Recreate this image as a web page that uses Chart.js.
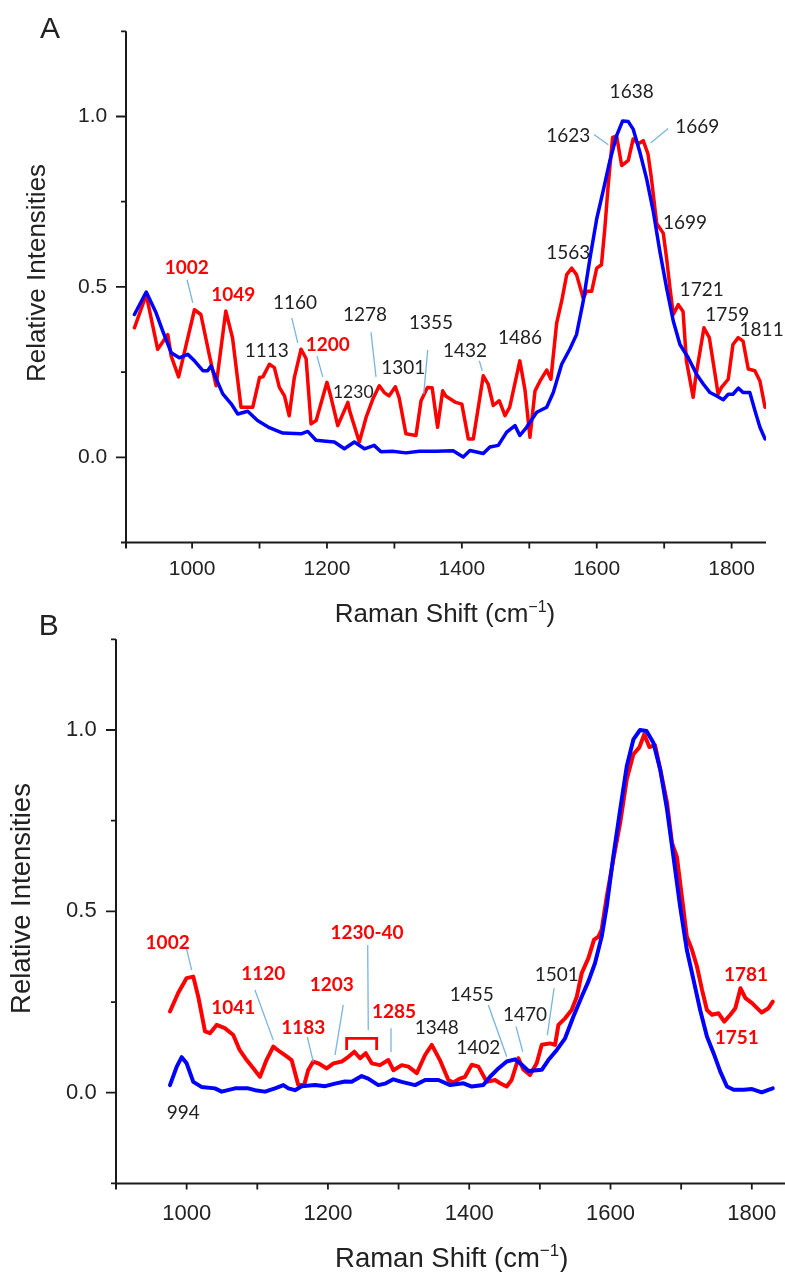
<!DOCTYPE html>
<html><head><meta charset="utf-8">
<script src="https://cdn.jsdelivr.net/npm/chart.js@4.4.1/dist/chart.umd.min.js"></script>
<style>
html,body{margin:0;padding:0;background:#fff;overflow:hidden;width:785px;height:1272px;}
#wrap{position:relative;width:785px;height:1272px;overflow:hidden;background:#fff;}
canvas{position:absolute;left:0;top:0;}
</style></head><body><div id="wrap"><canvas id="cA" width="800" height="1272"></canvas><canvas id="cB" width="800" height="1272"></canvas></div>
<script>
// ---------- Tick labels ----------
const xTickLabels = [1000, 1200, 1400, 1600, 1800];
const xMinorTicks = [1100, 1300, 1500, 1700];
const yTickLabels = [0.0, 0.5, 1.0];
const yMinorTicks = [-0.25, 0.25, 0.75, 1.25];

// ---------- Panel A data ----------
const redAx = [914.5,932,949,964,969,980,1003.5,1013,1025.6,1035.6,1050,1060,1072.6,1090,1100,1105,1114.6,1122,1129.4,1137,1144,1151.6,1161.6,1169,1176.4,1184,1200,1206,1216,1231,1233.5,1248,1258,1268,1277.6,1285,1292,1301.4,1307,1317,1332,1339.5,1349,1356,1364,1371.6,1376,1391,1400,1409.6,1417,1431.8,1439,1446.6,1455.5,1464,1471,1486,1493.6,1501,1508.5,1516,1525.8,1532,1540.6,1548,1555.5,1563,1570,1580,1585,1592.5,1600,1607,1612,1617,1623.6,1629.5,1637,1646.8,1654,1661.6,1669,1676,1681,1688.9,1698.7,1703.6,1708.6,1713.5,1721,1728,1733,1743,1746.7,1759,1767,1780,1785,1795,1802,1809.8,1817,1824.7,1834.5,1842,1849.5];
const redAy = [0.38,0.477,0.317,0.36,0.297,0.236,0.433,0.419,0.30,0.21,0.429,0.35,0.147,0.147,0.234,0.236,0.273,0.263,0.205,0.18,0.122,0.234,0.317,0.29,0.098,0.108,0.22,0.176,0.093,0.161,0.137,0.045,0.117,0.171,0.21,0.19,0.18,0.207,0.175,0.069,0.064,0.166,0.205,0.204,0.088,0.195,0.18,0.161,0.156,0.054,0.054,0.239,0.215,0.152,0.166,0.122,0.147,0.283,0.198,0.059,0.195,0.224,0.256,0.229,0.394,0.458,0.536,0.555,0.536,0.467,0.487,0.487,0.555,0.565,0.671,0.798,0.939,0.943,0.856,0.871,0.934,0.92,0.929,0.89,0.82,0.686,0.657,0.584,0.497,0.419,0.448,0.428,0.283,0.176,0.234,0.38,0.351,0.186,0.205,0.229,0.331,0.351,0.341,0.259,0.254,0.224,0.147];
const blueAx = [914.5,932,946.6,956.5,969,981,993.6,1003.5,1016,1023,1028,1038,1045.5,1058,1067.7,1082.5,1097,1114.6,1134.4,1161.6,1171.5,1183.8,1198.6,1211,1225.8,1240.6,1255.5,1270,1280,1297,1317,1337,1362,1387,1402,1412,1431.8,1441.6,1454,1466.5,1478.8,1486,1496,1511,1525.8,1535.6,1548,1560,1570,1580,1590,1600,1609.7,1619.6,1629.5,1638.4,1646.8,1654,1664,1674,1684,1693.7,1703.6,1713.5,1723.4,1735.7,1748,1758,1768,1778,1787.6,1795,1802,1810,1817,1827,1834.6,1842,1849.5];
const blueAy = [0.419,0.485,0.424,0.37,0.307,0.292,0.302,0.283,0.254,0.254,0.268,0.22,0.186,0.157,0.127,0.135,0.108,0.087,0.071,0.069,0.076,0.05,0.047,0.045,0.025,0.045,0.025,0.035,0.016,0.018,0.013,0.018,0.018,0.019,0.001,0.02,0.011,0.03,0.035,0.074,0.093,0.064,0.088,0.132,0.147,0.19,0.273,0.317,0.36,0.458,0.584,0.70,0.783,0.871,0.944,0.987,0.985,0.963,0.895,0.817,0.72,0.603,0.497,0.40,0.331,0.292,0.244,0.215,0.19,0.18,0.169,0.185,0.185,0.203,0.19,0.19,0.137,0.088,0.054];

// ---------- Panel B data ----------
const redBx = [976.4,988,1000,1009.4,1016.5,1026,1033,1042.5,1054,1066,1075,1085,1094.6,1103.8,1113,1122.6,1132,1141.6,1148.6,1158,1166.4,1172,1179.3,1186.4,1198.3,1207.8,1219.5,1229,1237.4,1245.5,1253.5,1262,1273.7,1285.5,1292.6,1304.5,1314,1325.8,1337.5,1347,1358.5,1370.5,1377.6,1387,1394,1403.6,1413,1424.8,1436.6,1443.7,1453,1460,1469.6,1476.6,1486,1495.5,1502.7,1514.5,1521.5,1526.3,1535.7,1545,1552.3,1559.3,1568.7,1576.7,1582.8,1587.5,1594.7,1604,1613.7,1623,1632.4,1640.8,1647.7,1655,1663,1670.4,1680,1687,1694,1701,1708,1715.3,1722.4,1729.5,1736.5,1743.6,1753,1761,1769.6,1776.7,1784,1791,1800.4,1814,1823.6,1829.7];
const redBy = [0.224,0.275,0.316,0.32,0.264,0.169,0.164,0.187,0.178,0.159,0.118,0.09,0.067,0.044,0.09,0.127,0.113,0.1,0.09,0.021,0.021,0.062,0.086,0.081,0.067,0.081,0.086,0.099,0.113,0.095,0.109,0.081,0.076,0.09,0.062,0.076,0.072,0.054,0.104,0.132,0.09,0.035,0.028,0.039,0.044,0.077,0.072,0.03,0.035,0.026,0.017,0.035,0.095,0.064,0.049,0.081,0.132,0.136,0.132,0.187,0.205,0.228,0.265,0.33,0.371,0.422,0.43,0.45,0.541,0.643,0.744,0.864,0.933,0.952,0.988,0.953,0.958,0.891,0.8,0.689,0.65,0.541,0.431,0.394,0.348,0.284,0.228,0.215,0.219,0.196,0.215,0.233,0.288,0.261,0.247,0.221,0.233,0.251];
const blueBx = [976.4,986,993,1000,1009.4,1021,1040,1049.6,1068.5,1087,1096.8,1111,1125,1137,1144,1153.4,1162.8,1181.7,1196,1210,1224,1233.6,1247.8,1257,1271.3,1280.7,1292.5,1304.5,1323.3,1337.5,1356.4,1373,1392,1403.6,1420,1429.5,1441.3,1453,1464.9,1474.4,1483.8,1502.7,1512,1524,1535.7,1547.5,1559.3,1568.7,1578,1587.6,1594.7,1604,1613.7,1623,1632.4,1641.8,1651,1660.7,1670.4,1680,1689,1698.5,1708,1717.5,1726.9,1736.5,1745.9,1755.4,1764.8,1774.3,1788.4,1800.4,1814,1823.6,1829.7];
const blueBy = [0.021,0.072,0.098,0.081,0.03,0.016,0.012,0.003,0.012,0.012,0.007,0.003,0.012,0.021,0.012,0.007,0.018,0.021,0.018,0.025,0.031,0.03,0.046,0.039,0.021,0.025,0.037,0.03,0.021,0.035,0.035,0.021,0.026,0.017,0.021,0.044,0.067,0.086,0.092,0.077,0.06,0.063,0.09,0.118,0.15,0.21,0.265,0.307,0.357,0.431,0.514,0.652,0.781,0.90,0.974,1.0,0.997,0.965,0.891,0.781,0.652,0.514,0.394,0.311,0.228,0.155,0.109,0.058,0.017,0.008,0.008,0.01,0.001,0.008,0.012];

// ---------- Peak annotations (label text, anchor in data units) ----------
const peaksA = [
  {text:'1002', x:992, y:0.555, red:true, line:[992.6,0.521,1001,0.453]},
  {text:'1049', x:1061, y:0.477, red:true},
  {text:'1113', x:1110.7, y:0.312},
  {text:'1160', x:1152.7, y:0.453, line:[1147.8,0.409,1156.7,0.336]},
  {text:'1200', x:1201.2, y:0.331, red:true, line:[1185.3,0.297,1193.7,0.236]},
  {text:'1230', x:1239, y:0.192, small:true},
  {text:'1278', x:1256.4, y:0.419, line:[1265.3,0.367,1272.7,0.236]},
  {text:'1301', x:1313.2, y:0.263},
  {text:'1355', x:1354.3, y:0.394, line:[1349.4,0.315,1343.5,0.186]},
  {text:'1432', x:1404.7, y:0.312, line:[1425.9,0.283,1430.3,0.254]},
  {text:'1486', x:1486.2, y:0.351},
  {text:'1563', x:1557.8, y:0.599},
  {text:'1623', x:1557.8, y:0.944, line:[1595.9,0.947,1617.1,0.917]},
  {text:'1638', x:1651.8, y:1.072},
  {text:'1669', x:1749, y:0.971, line:[1706,0.965,1680,0.922]},
  {text:'1699', x:1730.8, y:0.689},
  {text:'1721', x:1755.6, y:0.492},
  {text:'1759', x:1793.5, y:0.419},
  {text:'1811', x:1844.5, y:0.375}
];
const peaksB = [
  {text:'1002', x:973.1, y:0.412, red:true, line:[1000,0.396,1007.1,0.338]},
  {text:'994', x:995.2, y:-0.055},
  {text:'1041', x:1066, y:0.233, red:true},
  {text:'1120', x:1108.5, y:0.327, red:true, line:[1096.7,0.283,1122.6,0.145]},
  {text:'1183', x:1165.1, y:0.178, red:true, line:[1170.8,0.154,1179.3,0.085]},
  {text:'1203', x:1205.3, y:0.297, red:true, line:[1221.7,0.242,1210,0.104]},
  {text:'1230-40', x:1255.3, y:0.44, red:true, line:[1256.3,0.407,1257.1,0.173]},
  {text:'1285', x:1293.5, y:0.223, red:true, line:[1289.3,0.178,1289.3,0.112]},
  {text:'1348', x:1354, y:0.178},
  {text:'1402', x:1412.9, y:0.125},
  {text:'1455', x:1403.5, y:0.269, line:[1427,0.242,1453.1,0.099]},
  {text:'1470', x:1479, y:0.214, line:[1466.3,0.182,1475.8,0.113]},
  {text:'1501', x:1523.9, y:0.325, line:[1520.1,0.288,1510.6,0.159]},
  {text:'1781', x:1791.9, y:0.325, red:true},
  {text:'1751', x:1778.8, y:0.15, red:true}
];
const bracketB = {x1:1226.5, x2:1269, y:0.15, yLeg:0.118};

// ---------- drawing ----------
const AXIS_FONT = '"Liberation Sans", Arial, sans-serif';
const PEAK_FONT = 'Lato, "Open Sans", sans-serif';
const INK = '#222222';

function zip(xs, ys) { return xs.map((x, i) => ({x: x, y: ys[i]})); }

function decorPlugin(cfg) {
  return {
    id: 'decor' + cfg.id,
    afterDraw(chart) {
      const ctx = chart.ctx, xs = chart.scales.x, ys = chart.scales.y, a = chart.chartArea;
      ctx.save();
      // axes
      ctx.strokeStyle = '#1a1a1a'; ctx.lineWidth = 2; ctx.lineCap = 'butt';
      ctx.beginPath();
      ctx.moveTo(a.left, a.top); ctx.lineTo(a.left, a.bottom + 6);
      ctx.moveTo(a.left - 1, a.bottom); ctx.lineTo(a.right, a.bottom);
      ctx.stroke();
      ctx.lineWidth = 1.8;
      ctx.beginPath();
      yTickLabels.forEach(v => { const y = ys.getPixelForValue(v); ctx.moveTo(a.left - 10, y); ctx.lineTo(a.left, y); });
      yMinorTicks.forEach(v => { const y = ys.getPixelForValue(v); ctx.moveTo(a.left - 5, y); ctx.lineTo(a.left, y); });
      xTickLabels.concat(xMinorTicks).forEach(v => { const x = xs.getPixelForValue(v); ctx.moveTo(x, a.bottom); ctx.lineTo(x, a.bottom + 6); });
      ctx.stroke();

      // y title
      ctx.fillStyle = INK;
      ctx.save();
      ctx.translate(cfg.yTitleX, cfg.yTitleY);
      ctx.rotate(-Math.PI / 2);
      ctx.font = cfg.yTitleSize + 'px ' + AXIS_FONT;
      ctx.textAlign = 'center'; ctx.textBaseline = 'middle';
      ctx.fillText('Relative Intensities', 0, 0);
      ctx.restore();

      // x title with superscript
      const F = cfg.xTitleSize, fs = Math.round(F * 0.62);
      const p1 = 'Raman Shift (cm', sup = '\u22121', p3 = ')';
      ctx.font = F + 'px ' + AXIS_FONT; const w1 = ctx.measureText(p1).width, w3 = ctx.measureText(p3).width;
      ctx.font = fs + 'px ' + AXIS_FONT; const w2 = ctx.measureText(sup).width;
      let x0 = cfg.xTitleX - (w1 + w2 + w3) / 2;
      ctx.textAlign = 'left'; ctx.textBaseline = 'alphabetic';
      ctx.font = F + 'px ' + AXIS_FONT; ctx.fillText(p1, x0, cfg.xTitleY);
      ctx.font = fs + 'px ' + AXIS_FONT; ctx.fillText(sup, x0 + w1, cfg.xTitleY - F * 0.38);
      ctx.font = F + 'px ' + AXIS_FONT; ctx.fillText(p3, x0 + w1 + w2, cfg.xTitleY);

      // panel letter
      ctx.font = cfg.letterSize + 'px ' + AXIS_FONT;
      ctx.textAlign = 'center'; ctx.textBaseline = 'middle';
      ctx.fillText(cfg.letter, cfg.letterX, cfg.letterY);

      // leader lines
      ctx.strokeStyle = '#78b4e2'; ctx.lineWidth = 1.3;
      cfg.peaks.forEach(p => {
        if (!p.line) return;
        ctx.beginPath();
        ctx.moveTo(xs.getPixelForValue(p.line[0]), ys.getPixelForValue(p.line[1]));
        ctx.lineTo(xs.getPixelForValue(p.line[2]), ys.getPixelForValue(p.line[3]));
        ctx.stroke();
      });
      // bracket
      if (cfg.bracket) {
        const b = cfg.bracket;
        ctx.strokeStyle = '#ff0000'; ctx.lineWidth = 2.8; ctx.lineJoin = 'miter';
        ctx.beginPath();
        ctx.moveTo(xs.getPixelForValue(b.x1), ys.getPixelForValue(b.yLeg));
        ctx.lineTo(xs.getPixelForValue(b.x1), ys.getPixelForValue(b.y));
        ctx.lineTo(xs.getPixelForValue(b.x2), ys.getPixelForValue(b.y));
        ctx.lineTo(xs.getPixelForValue(b.x2), ys.getPixelForValue(b.yLeg));
        ctx.stroke();
      }
      // labels
      ctx.textAlign = 'center'; ctx.textBaseline = 'middle';
      cfg.peaks.forEach(p => {
        const size = p.small ? cfg.peakSize - 1.5 : cfg.peakSize;
        ctx.font = (p.red ? '700 ' : '400 ') + size + 'px ' + PEAK_FONT;
        ctx.fillStyle = p.red ? '#ff0000' : INK;
        ctx.fillText(p.text, xs.getPixelForValue(p.x), ys.getPixelForValue(p.y));
      });
      ctx.restore();
    }
  };
}

function makeChart(cfg) {
  const lineDs = (pts, color) => ({
    data: pts, borderColor: color, borderWidth: cfg.lw, pointRadius: 0, tension: 0,
    fill: false, borderJoinStyle: 'round', borderCapStyle: 'round'
  });
  return new Chart(document.getElementById(cfg.canvas), {
    type: 'line',
    data: { datasets: [ lineDs(zip(cfg.blueX, cfg.blueY), '#0000ff'), lineDs(zip(cfg.redX, cfg.redY), '#ff0000') ] },
    options: {
      responsive: false, animation: false, events: [],
      layout: { autoPadding: false, padding: { left: 0, top: cfg.top, right: cfg.padRight, bottom: cfg.padBottom } },
      plugins: { legend: { display: false }, tooltip: { enabled: false }, title: { display: false } },
      scales: {
        x: {
          type: 'linear', min: cfg.xmin, max: cfg.xmax,
          grid: { display: false, drawTicks: false }, border: { display: false },
          ticks: {
            stepSize: 100, includeBounds: false, autoSkip: false, maxRotation: 0, minRotation: 0,
            padding: cfg.xPad, color: INK, font: { family: AXIS_FONT, size: cfg.tickSize },
            callback: v => xTickLabels.includes(Math.round(v)) && Math.abs(v - Math.round(v)) < 1e-6 ? String(Math.round(v)) : ''
          },
          afterFit: s => { s.height = 50; }
        },
        y: {
          type: 'linear', min: -0.25, max: 1.25,
          grid: { display: false, drawTicks: false }, border: { display: false },
          ticks: {
            stepSize: 0.25, includeBounds: false, autoSkip: false,
            padding: cfg.yPad, color: INK, font: { family: AXIS_FONT, size: cfg.tickSize },
            callback: v => { const m = yTickLabels.find(t => Math.abs(t - v) < 1e-6); return m === undefined ? '' : m.toFixed(1); }
          },
          afterFit: s => { s.width = cfg.left; }
        }
      }
    },
    plugins: [decorPlugin(cfg)]
  });
}

makeChart({
  id: 'A', canvas: 'cA', letter: 'A', letterX: 50, letterY: 30, letterSize: 30,
  redX: redAx, redY: redAy, blueX: blueAx, blueY: blueAy, peaks: peaksA, bracket: null,
  xmin: 902, xmax: 1851, left: 126, top: 28, padRight: 800 - 766, padBottom: 1272 - 542.5 - 50,
  lw: 3.5, tickSize: 21, xPad: 14, yPad: 18.7,
  yTitleX: 38, yTitleY: 273, yTitleSize: 26,
  xTitleX: 445, xTitleY: 622, xTitleSize: 26, peakSize: 19
});
makeChart({
  id: 'B', canvas: 'cB', letter: 'B', letterX: 48.7, letterY: 627, letterSize: 30,
  redX: redBx, redY: redBy, blueX: blueBx, blueY: blueBy, peaks: peaksB, bracket: bracketB,
  xmin: 900, xmax: 1847, left: 116, top: 639.3, padRight: 800 - 785, padBottom: 1272 - 1183.4 - 50,
  lw: 4, tickSize: 22, xPad: 17.3, yPad: 19.3,
  yTitleX: 22.5, yTitleY: 898.5, yTitleSize: 27.5,
  xTitleX: 451.7, xTitleY: 1266.7, xTitleSize: 27.5, peakSize: 19
});
</script></body></html>
